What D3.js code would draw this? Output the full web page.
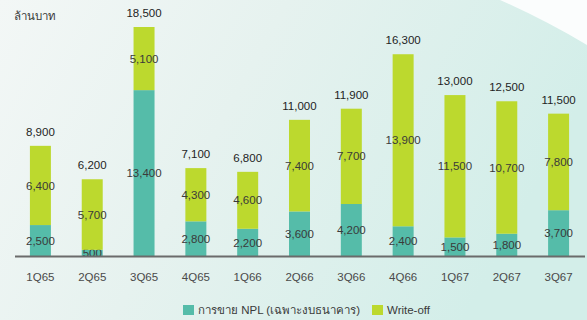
<!DOCTYPE html>
<html>
<head>
<meta charset="utf-8">
<script src="https://cdn.jsdelivr.net/npm/d3@7"></script>
<style>
  body { margin: 0; }
  svg { display: block; font-family: "Liberation Sans", Arial, "Noto Sans", sans-serif; }
</style>
</head>
<body>
<div id="chart"></div>
<script>
const quarters = ["1Q65", "2Q65", "3Q65", "4Q65", "1Q66", "2Q66", "3Q66", "4Q66", "1Q67", "2Q67", "3Q67"];
const nplSale = [2500, 500, 13400, 2800, 2200, 3600, 4200, 2400, 1500, 1800, 3700];
const writeOff = [6400, 5700, 5100, 4300, 4600, 7400, 7700, 13900, 11500, 10700, 7800];
const totals = [8900, 6200, 18500, 7100, 6800, 11000, 11900, 16300, 13000, 12500, 11500];
const seriesNames = ["การขาย NPL (เฉพาะงบธนาคาร)", "Write-off"];
const unitLabel = "ล้านบาท";

const width = 587, height = 320;
const baseY = 256;
const teal = "#55bca9", lime = "#bcd92e";

const svg = d3.select("#chart").append("svg")
    .attr("width", width)
    .attr("height", height);

// background: pale left side, teal tint toward the right, white corner top right
const defs = svg.append("defs");
const bg = defs.append("linearGradient").attr("id", "bg")
    .attr("x1", "0").attr("y1", "0").attr("x2", "1").attr("y2", "0.3");
bg.append("stop").attr("offset", "0").attr("stop-color", "#f3f7f6");
bg.append("stop").attr("offset", "0.45").attr("stop-color", "#e6f2ef");
bg.append("stop").attr("offset", "1").attr("stop-color", "#d3eee9");
svg.append("rect").attr("width", width).attr("height", height).attr("fill", "url(#bg)");
svg.append("path")
    .attr("d", "M500,0 L587,0 L587,45 Q545,20 500,0 Z")
    .attr("fill", "#fbfdfd");

const x = d3.scaleBand()
    .domain(quarters)
    .range([14.5, 584.5])
    .paddingInner(0.595)
    .paddingOuter(0.2975);

const y = d3.scaleLinear()
    .domain([0, 18500])
    .range([baseY, 27]);

const rows = quarters.map((q, i) => ({ q, npl: nplSale[i], wo: writeOff[i], total: totals[i] }));
const stacked = d3.stack().keys(["npl", "wo"])(rows);
const colors = [teal, lime];

stacked.forEach((layer, k) => {
    svg.append("g").selectAll("rect")
        .data(layer)
        .enter()
        .append("rect")
        .attr("x", d => x(d.data.q))
        .attr("y", d => y(d[1]))
        .attr("width", x.bandwidth())
        .attr("height", d => y(d[0]) - y(d[1]))
        .attr("fill", colors[k]);

    svg.append("g").selectAll("text")
        .data(layer)
        .enter()
        .append("text")
        .attr("x", d => x(d.data.q) + x.bandwidth() / 2)
        .attr("y", d => (y(d[0]) + y(d[1])) / 2)
        .attr("dy", "0.36em")
        .attr("text-anchor", "middle")
        .attr("font-size", 11.5)
        .attr("fill", "#3a3a3a")
        .text(d => d3.format(",")(d[1] - d[0]));
});

// totals above bars
svg.append("g").selectAll("text")
    .data(rows)
    .enter()
    .append("text")
    .attr("x", d => x(d.q) + x.bandwidth() / 2)
    .attr("y", d => y(d.total) - 10)
    .attr("text-anchor", "middle")
    .attr("font-size", 11.5)
    .attr("fill", "#1e1e1e")
    .text(d => d3.format(",")(d.total));

// baseline + category labels
const xAxis = svg.append("g")
    .attr("transform", "translate(0," + baseY + ")")
    .call(d3.axisBottom(x).tickSize(0).tickPadding(17));
xAxis.select(".domain").attr("stroke", "#6b6b6b").attr("stroke-width", 2);
xAxis.selectAll("text")
    .attr("font-size", 11.5)
    .attr("fill", "#4a4a4a")
    .attr("font-family", "Liberation Sans, Arial, sans-serif");

svg.append("text")
    .attr("x", 14)
    .attr("y", 20)
    .attr("font-size", 11.5)
    .attr("fill", "#3a3a3a")
    .text(unitLabel);

// legend
const legendX = [183, 372];
const legend = svg.append("g").selectAll("g")
    .data(seriesNames)
    .enter()
    .append("g")
    .attr("transform", (d, i) => "translate(" + legendX[i] + ",305)");
legend.append("rect")
    .attr("width", 11)
    .attr("height", 10)
    .attr("fill", (d, i) => colors[i]);
legend.append("text")
    .attr("x", 15)
    .attr("y", 9)
    .attr("font-size", 11.5)
    .attr("fill", "#3a3a3a")
    .text(d => d);
</script>
</body>
</html>
